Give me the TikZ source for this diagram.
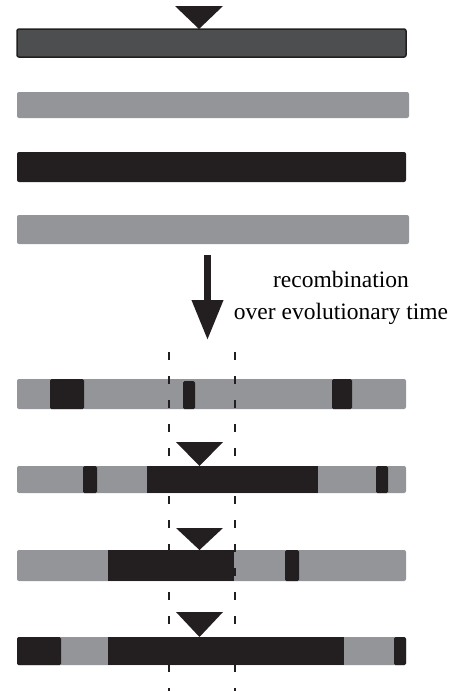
\documentclass[tikz,border=0pt]{standalone}
\usepackage{fontspec}
\setmainfont{Liberation Serif}
\usetikzlibrary{arrows.meta}
\definecolor{chrdark}{HTML}{4D4E50}
\definecolor{chrgray}{HTML}{939598}
\definecolor{chrblack}{HTML}{231F20}
\begin{document}
\begin{tikzpicture}[x=1pt,y=-1pt,
    graybar/.style={fill=chrgray,rounded corners=2pt},
    blackbar/.style={fill=chrblack,rounded corners=2pt},
    block/.style={fill=chrblack,rounded corners=1.5pt},
    tract/.style={fill=chrblack},
    marker/.style={fill=chrblack},
    boundary/.style={chrblack,line width=2.7pt,dash pattern=on 8pt off 16pt}]
      \useasboundingbox (0,0) rectangle (453,691);
      % starting population
      \draw[fill=chrdark,draw=chrblack,line width=1.5pt,rounded corners=2pt]
        (17,29) rectangle (406,57);
      \fill[marker] (175,6) -- (223,6) -- (199,29) -- cycle;
      \fill[graybar] (17,92) rectangle (409,118);
      \fill[blackbar] (17,152) rectangle (406,182);
      \fill[graybar] (17,215) rectangle (409,244);
      % arrow and label
      \coordinate (top) at (207.5,255);
      \coordinate (tip) at (207.5,340);
      \draw[chrblack,line width=7pt,-{Triangle[length=40pt,width=30pt]}] (top) -- (tip);
      \node[align=center,font=\fontsize{23.5}{32}\selectfont] (label) at (341,298)
        {recombination\\over evolutionary time};
      % recombinant chromosomes
      \fill[graybar] (17,379) rectangle (406,409);
      \fill[block] (50,379) rectangle (84,409);
      \fill[block] (183,381) rectangle (195,409);
      \fill[block] (332,379) rectangle (352,409);
      \fill[graybar] (17,466) rectangle (406,493);
      \fill[block] (83,466) rectangle (97,493);
      \fill[tract] (147,466) rectangle (318,493);
      \fill[block] (376,466) rectangle (388,493);
      \fill[marker] (176,442) -- (223,442) -- (199.5,466) -- cycle;
      \fill[graybar] (17,550) rectangle (406,581);
      \fill[tract] (108,550) rectangle (234,581);
      \fill[block] (285,550) rectangle (299,581);
      \fill[marker] (176,528) -- (223,528) -- (199.5,550) -- cycle;
      \fill[graybar] (17,637) rectangle (406,665);
      \fill[block] (17,637) rectangle (61,665);
      \fill[tract] (108,637) rectangle (344,665);
      \fill[block] (394,637) rectangle (406,665);
      \fill[marker] (176,612) -- (223,612) -- (199.5,637) -- cycle;
      % region boundaries
      \coordinate (la) at (169,352);
      \coordinate (lb) at (169,691);
      \coordinate (ra) at (235,352);
      \coordinate (rb) at (235,691);
      \draw[boundary] (la) -- (lb);
      \draw[boundary] (ra) -- (rb);
    \end{tikzpicture}
\end{document}
